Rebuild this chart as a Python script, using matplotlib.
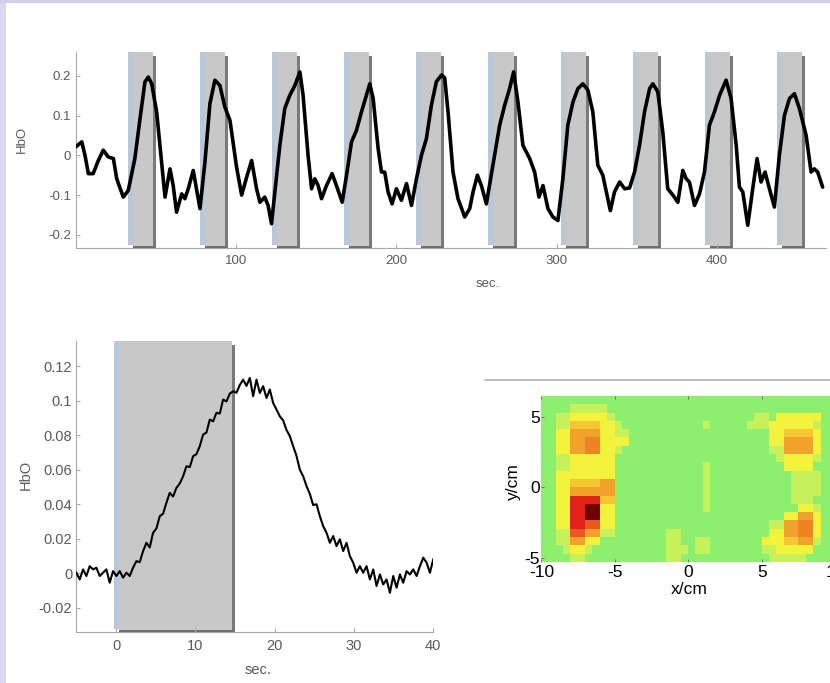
import numpy as np
import matplotlib
matplotlib.use("Agg")
import matplotlib.pyplot as plt
from matplotlib.patches import Rectangle
from matplotlib.lines import Line2D
from matplotlib.colors import LinearSegmentedColormap

plt.rcParams.update({
    "font.family": ["Liberation Sans", "DejaVu Sans"],
    "axes.unicode_minus": False,
    "axes.edgecolor": "#a8a8a8",
    "xtick.color": "#a8a8a8",
    "ytick.color": "#a8a8a8",
    "xtick.labelcolor": "#5a5a5a",
    "ytick.labelcolor": "#5a5a5a",
    "axes.labelcolor": "#5a5a5a",
})

# ---- data: full run (HbO vs time)
run_t = [0, 3.9, 5.9, 8, 11, 14.2, 17.3, 20.4, 23.6, 25.7, 29.8, 32.9, 37, 40.2, 43.3, 45.4,
         47.5, 50.6, 53.7, 55.8, 58.9, 60.9, 63, 66.2, 68.2, 70.3, 73.4, 77.6, 80.7, 83.8,
         86.9, 90, 93.1, 96.3, 100.4, 103.6, 106.7, 109.8, 112.9, 115, 118, 120.1, 122.2,
         124.3, 127.4, 130.5, 133.6, 136.8, 139.9, 141.9, 145, 147.2, 149.2, 151.3, 153.4,
         156.5, 160, 162.7, 166.3, 169, 172.1, 175.2, 178.3, 181.4, 183.5, 185.6, 188.7,
         190.8, 192.8, 194.9, 197.4, 200.1, 203.2, 206.4, 209.5, 212.6, 215.7, 218.8, 221.9,
         225, 228.2, 230.2, 232.3, 235.4, 238.5, 242.7, 245.8, 247.9, 250.6, 253.1, 256.2,
         260.3, 264.5, 267.6, 270.7, 273.2, 275.9, 279, 283.2, 286.3, 289, 291.5, 294.6,
         297.7, 300.8, 303.9, 307, 310.2, 313.3, 316.4, 319.5, 322.6, 325.7, 328.8, 331,
         333.5, 336.1, 339.3, 342.4, 345.5, 348.6, 351.7, 354.8, 358, 360, 363.1, 366.2,
         369.3, 372.5, 375.6, 378.7, 380.8, 382.8, 386, 389.1, 392.2, 395.3, 398.4, 401.6,
         405.7, 408.8, 412, 414, 416.1, 419.2, 422.3, 425, 427.5, 430, 432.7, 435.8, 438.9,
         442.1, 445.2, 448.3, 451.4, 455.6, 458.7, 460.7, 462.8, 465.9]
run_hbo = [0.021, 0.034, 0.0, -0.046, -0.046, -0.013, 0.013, -0.004, -0.008, -0.059, -0.105,
           -0.088, -0.008, 0.092, 0.185, 0.197, 0.18, 0.109, -0.017, -0.105, -0.034, -0.076,
           -0.143, -0.097, -0.109, -0.084, -0.038, -0.134, -0.017, 0.13, 0.189, 0.176, 0.122,
           0.088, -0.029, -0.1, -0.055, -0.013, -0.084, -0.118, -0.105, -0.126, -0.172, -0.092,
           0.025, 0.118, 0.151, 0.176, 0.21, 0.151, 0.0, -0.084, -0.059, -0.076, -0.109,
           -0.076, -0.046, -0.076, -0.118, -0.05, 0.034, 0.063, 0.109, 0.151, 0.18, 0.143,
           0.017, -0.042, -0.042, -0.092, -0.122, -0.084, -0.113, -0.071, -0.126, -0.059, 0.0,
           0.042, 0.126, 0.185, 0.202, 0.195, 0.109, -0.042, -0.109, -0.155, -0.134, -0.092,
           -0.05, -0.076, -0.122, -0.025, 0.076, 0.126, 0.168, 0.21, 0.134, 0.025, -0.008,
           -0.042, -0.105, -0.076, -0.134, -0.155, -0.164, -0.059, 0.076, 0.134, 0.168, 0.18,
           0.164, 0.109, -0.025, -0.05, -0.092, -0.139, -0.092, -0.067, -0.084, -0.082, -0.042,
           0.025, 0.109, 0.168, 0.18, 0.16, 0.059, -0.084, -0.1, -0.118, -0.038, -0.059,
           -0.067, -0.126, -0.097, -0.042, 0.076, 0.109, 0.151, 0.189, 0.143, 0.025, -0.08,
           -0.092, -0.176, -0.084, -0.008, -0.067, -0.042, -0.084, -0.13, 0.0, 0.101, 0.143,
           0.155, 0.118, 0.05, -0.042, -0.034, -0.042, -0.08]
run_onsets = [34, 79, 124, 169, 214, 259, 304, 349, 394, 439]
run_block_len = 16

# ---- data: block average (-5 .. 40 s)
avg_range = (-5, 40)
avg_hbo = [0.0004, -0.0035, 0.0023, -0.0015, 0.0042, 0.0023, 0.0033, -0.0015, 0.0004, 0.0023,
           -0.0054, 0.0013, -0.0015, 0.0013, -0.0025, 0.0004, -0.0015, 0.0033, 0.0071, 0.0065,
           0.0129, 0.0177, 0.0150, 0.0235, 0.0260, 0.0331, 0.0345, 0.0409, 0.0466, 0.0445,
           0.0495, 0.0520, 0.0562, 0.0620, 0.0615, 0.0678, 0.0690, 0.0736, 0.0803, 0.0815,
           0.0890, 0.0880, 0.0929, 0.0925, 0.1006, 0.0995, 0.1040, 0.1054, 0.1045, 0.1090,
           0.1121, 0.1085, 0.1131,
           0.1025, 0.1121, 0.1044, 0.1083, 0.1015, 0.1064, 0.0986, 0.0948, 0.0909, 0.0885,
           0.0830, 0.0794, 0.0736, 0.0680, 0.0600, 0.0562, 0.0505, 0.0460, 0.0395, 0.0400,
           0.0331, 0.0273, 0.0235, 0.0177, 0.0216, 0.0158, 0.0197, 0.0129, 0.0177, 0.0100,
           0.0062, 0.0004, 0.0042, 0.0004, 0.0042, -0.0035, 0.0023, -0.0073, -0.0006, -0.0064,
           -0.0035, -0.0112, -0.0015, -0.0083, -0.0006, -0.0054, 0.0013, -0.0006, 0.0023,
           -0.0015, 0.0042, 0.0091, 0.0062, 0.0004, 0.0081]
avg_block = (0, 15)

# ---- data: topography map (run-length rows, top to bottom, 0.5 cm columns)
map_rows = [
    "",
    "4. 5g",
    "2. 2g 5y 1g 19. 2g 1. 6y",
    "2. 2g 4Y 2y 1g 11. 1g 5. 3g 6y 1g",
    "2. 2y 4o 2y 2g 19. 2y 4Y 1y",
    "2. 2y 2o 2O 4y 19. 2y 4o 1y",
    "2. 2y 2o 2O 2y 1g 20. 2g 4o 1y",
    "2. 2g 6y 22. 1g 4y 1g",
    "2. 2g 6y 12. 1g 10. 4y",
    "2. 8y 12. 1g 11. 4g",
    "2. 2y 4Y 2o 12. 1g 11. 4g",
    "2. 2y 6o 12. 1g 11. 4g",
    "2. 2y 4r 2Y 12. 1g 11. 3g",
    "2. 2y 2r 2d 2y 12. 1g 12. 2y 1g",
    "2. 2y 2r 2d 2y 23. 2y 2o 1y",
    "2. 2y 2r 2R 2y 21. 2g 2o 2O 1y",
    "2. 2g 2R 2o 2g 7. 2g 12. 2y 2o 2O 1y",
    "2. 2g 2o 2y 9. 2g 2. 2g 7. 3y 2Y 2o 1g",
    "3. 1g 2y 1g 10. 3g 1. 2g 7. 2g 5y",
    "4. 2g 11. 2g 12. 5g",
]
map_levels = {".": 0.0, "g": 0.13, "y": 0.3, "Y": 0.42, "o": 0.55, "O": 0.62,
              "R": 0.7, "r": 0.8, "d": 1.0}
map_ncols = 42
map_extent = (-10, 11, -5.26, 6.46)


def decode(row):
    vals = []
    for tok in row.split():
        n, ch = (int(tok[:-1]) if tok[:-1] else 1), tok[-1]
        vals += [map_levels[ch]] * n
    vals += [0.0] * (map_ncols - len(vals))
    return vals[:map_ncols]


def draw_block(ax, x0, x1):
    # gray stimulus box with the blue-ish left rim and dark right edge of the original
    bb = ax.get_window_extent()
    xl, yl = ax.get_xlim(), ax.get_ylim()
    px = (xl[1] - xl[0]) / bb.width
    py = (yl[1] - yl[0]) / bb.height
    y0, y1 = yl
    ax.add_patch(Rectangle((x0 - 2.5 * px, y0 + 3 * py), 8 * px, y1 - y0 - 3 * py,
                           facecolor="#b9c7d7", lw=0, zorder=1))
    ax.add_patch(Rectangle((x0 + 2.5 * px, y0), x1 - x0 - 5.5 * px, y1 - y0,
                           facecolor="#c8c8c8", lw=0, zorder=1.1))
    ax.add_patch(Rectangle((x1 - 3 * px, y0), 3 * px, y1 - y0 - 4.5 * py,
                           facecolor="#7a7a7a", lw=0, zorder=1.2))
    ax.add_patch(Rectangle((x0 + 2.5 * px, y0), x1 - x0 - 2.5 * px, 2 * py,
                           facecolor="#6e6e6e", lw=0, zorder=1.2))


def style(ax, size, xpad):
    for s in ("top", "right"):
        ax.spines[s].set_visible(False)
    ax.tick_params(direction="in", length=3, width=0.8, labelsize=size)
    ax.tick_params(axis="x", pad=xpad)
    ax.tick_params(axis="y", pad=3)


fig = plt.figure(figsize=(8.3, 6.83), dpi=100)
fig.patches.append(Rectangle((0, 0), 6 / 830, 1, transform=fig.transFigure,
                             facecolor="#dcd7ee", lw=0))
fig.patches.append(Rectangle((0, 1 - 3 / 683), 1, 3 / 683, transform=fig.transFigure,
                             facecolor="#d2cce8", lw=0))

# ---- top: whole recording
ax1 = fig.add_axes([0.0910, 0.6369, 0.9042, 0.2870])
ax1.set_xlim(0, 468)
ax1.set_ylim(-0.233, 0.26)
for on in run_onsets:
    draw_block(ax1, on, on + run_block_len)
ax1.plot(run_t, run_hbo, color="black", lw=2.6, zorder=3,
         solid_joinstyle="round", solid_capstyle="round")
ax1.set_xticks([100, 200, 300, 400])
ax1.set_yticks([-0.2, -0.1, 0, 0.1, 0.2])
ax1.set_yticklabels(["-0.2", "-0.1", "0", "0.1", "0.2"])
style(ax1, 9.5, 5)
ax1.set_xlabel("sec.", fontsize=9.5)
ax1.xaxis.set_label_coords(0.5496, -0.153)
ax1.set_ylabel("HbO", fontsize=9.5)
ax1.yaxis.set_label_coords(-0.0633, 0.556)

# ---- bottom left: block average
ax2 = fig.add_axes([0.0920, 0.0747, 0.4300, 0.4261])
ax2.set_xlim(*avg_range)
ax2.set_ylim(-0.0339, 0.1345)
draw_block(ax2, *avg_block)
avg_t = np.linspace(avg_range[0], avg_range[1], len(avg_hbo))
ax2.plot(avg_t, avg_hbo, color="black", lw=1.5, zorder=3)
ax2.set_xticks([0, 10, 20, 30, 40])
ax2.set_yticks([-0.02, 0, 0.02, 0.04, 0.06, 0.08, 0.1, 0.12])
ax2.set_yticklabels(["-0.02", "0", "0.02", "0.04", "0.06", "0.08", "0.1", "0.12"])
style(ax2, 10.5, 5)
ax2.set_xlabel("sec.", fontsize=10.5)
ax2.xaxis.set_label_coords(0.509, -0.1065)
ax2.set_ylabel("HbO", fontsize=10.5)
ax2.yaxis.set_label_coords(-0.1216, 0.54)

# ---- bottom right: topography
fig.add_artist(Line2D([485 / 830, 1.0], [1 - 380 / 683] * 2, transform=fig.transFigure,
                      color="#b4b4b4", lw=1.2))
cmap = LinearSegmentedColormap.from_list("topo", [
    (0.0, "#8cf06e"), (0.13, "#c8f25a"), (0.3, "#f4f23c"), (0.42, "#f6c832"),
    (0.55, "#f2a22a"), (0.62, "#ee8424"), (0.7, "#ea5a20"), (0.8, "#e4201a"),
    (1.0, "#6e0000")])
grid = np.array([decode(r) for r in map_rows])
ax3 = fig.add_axes([0.6524, 0.1776, 0.3719, 0.2426])
ax3.imshow(grid, cmap=cmap, vmin=0, vmax=1, extent=map_extent, aspect="auto",
           interpolation="nearest")
ax3.set_xlim(map_extent[0], map_extent[1])
ax3.set_ylim(map_extent[2], map_extent[3])
for s in ax3.spines.values():
    s.set_visible(False)
ax3.set_xticks([-10, -5, 0, 5, 10])
ax3.set_yticks([-5, 0, 5])
ax3.tick_params(direction="in", length=2, width=0.6, color="#666666",
                labelsize=12.5, labelcolor="black", pad=1, top=True)
ax3.tick_params(axis="x", pad=2.5)
ax3.set_xlabel("x/cm", fontsize=12.5, color="black")
ax3.xaxis.set_label_coords(0.478, -0.125)
ax3.set_ylabel("y/cm", fontsize=12.5, color="black")
ax3.yaxis.set_label_coords(-0.066, 0.481)

fig.savefig("out.png", dpi=100)
